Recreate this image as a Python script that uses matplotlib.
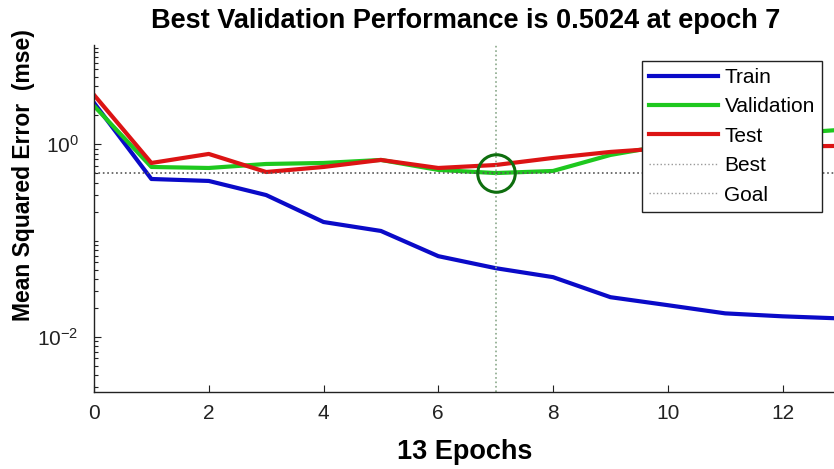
import matplotlib
matplotlib.use('Agg')
import matplotlib.pyplot as plt
from matplotlib.ticker import FixedLocator, LogFormatterSciNotation, NullFormatter

plt.rcParams['font.family'] = ['Liberation Sans', 'DejaVu Sans']
plt.rcParams['mathtext.default'] = 'regular'

# training record (mse per epoch)
epochs = list(range(14))
train_perf = [2.69, 0.436, 0.416, 0.297, 0.156, 0.126, 0.069, 0.0518,
              0.0418, 0.0259, 0.0214, 0.0176, 0.0164, 0.0156]
val_perf = [2.50, 0.581, 0.567, 0.624, 0.639, 0.687, 0.541, 0.5024,
            0.528, 0.774, 0.983, 1.135, 1.28, 1.41]
test_perf = [3.25, 0.639, 0.793, 0.515, 0.581, 0.687, 0.567, 0.609,
             0.721, 0.832, 0.915, 0.937, 0.949, 0.960]
best_epoch = 7
best_perf = 0.5024
num_epochs = 13

fig = plt.figure(figsize=(8.34, 4.69), dpi=100)
ax = fig.add_axes([0.1127, 0.1642, 0.8945, 0.740])

ax.plot(epochs, train_perf, color='#0a0ac8', lw=3, label='Train')
ax.plot(epochs, val_perf, color='#1ec81e', lw=3, label='Validation')
ax.plot(epochs, test_perf, color='#dc1414', lw=3, label='Test')

# best epoch markers
ax.axvline(best_epoch, color='#8aa88a', ls=':', lw=1.2)
ax.axhline(best_perf, color='#555555', ls=':', lw=1.2)
ax.plot([best_epoch], [best_perf], 'o', ms=27, mfc='none', mec='#0e6e0e', mew=2.2)

ax.set_yscale('log')
ax.set_xlim(0, num_epochs)
ax.set_ylim(10 ** -2.57, 10 ** 1.03)

ax.set_xticks(range(0, 13, 2))
ax.yaxis.set_major_locator(FixedLocator([1e-2, 1e0]))
ax.yaxis.set_major_formatter(LogFormatterSciNotation())
minor = [m * 10.0 ** e for e in range(-3, 2) for m in range(1, 10)]
minor = [v for v in minor if v not in (1e-2, 1e0)]
ax.yaxis.set_minor_locator(FixedLocator(minor))
ax.yaxis.set_minor_formatter(NullFormatter())

ax.tick_params(which='both', direction='in', labelsize=15, colors='#222222')
ax.tick_params(which='major', length=5, width=0.8)
ax.tick_params(which='minor', length=3, width=0.8)
ax.tick_params(axis='x', pad=9)
ax.tick_params(axis='y', pad=11)

for side in ('top', 'right'):
    ax.spines[side].set_visible(False)
for side in ('left', 'bottom'):
    ax.spines[side].set_color('#222222')
    ax.spines[side].set_linewidth(1.0)

handles, labels = ax.get_legend_handles_labels()
dotted = plt.Line2D([], [], color='#999999', ls=':', lw=1.0)
leg = ax.legend(handles + [dotted, dotted], labels + ['Best', 'Goal'],
                loc='upper right', bbox_to_anchor=(0.976, 0.955),
                fontsize=15, frameon=True, fancybox=False, framealpha=1,
                edgecolor='#222222', handlelength=3.3, handletextpad=0.3,
                borderpad=0.35, labelspacing=0.5, borderaxespad=0)
leg.get_frame().set_linewidth(1.0)

fig.text(0.558, 0.955, 'Best Validation Performance is %.4f at epoch %d' % (best_perf, best_epoch),
         ha='center', va='center', fontsize=19.5, fontweight='bold')
fig.text(0.557, 0.036, '%d Epochs' % num_epochs, ha='center', va='center',
         fontsize=19.5, fontweight='bold')
fig.text(0.028, 0.627, 'Mean Squared Error  (mse)', ha='center', va='center',
         rotation=90, fontsize=16.5, fontweight='bold')

fig.savefig('out.png', dpi=100)
